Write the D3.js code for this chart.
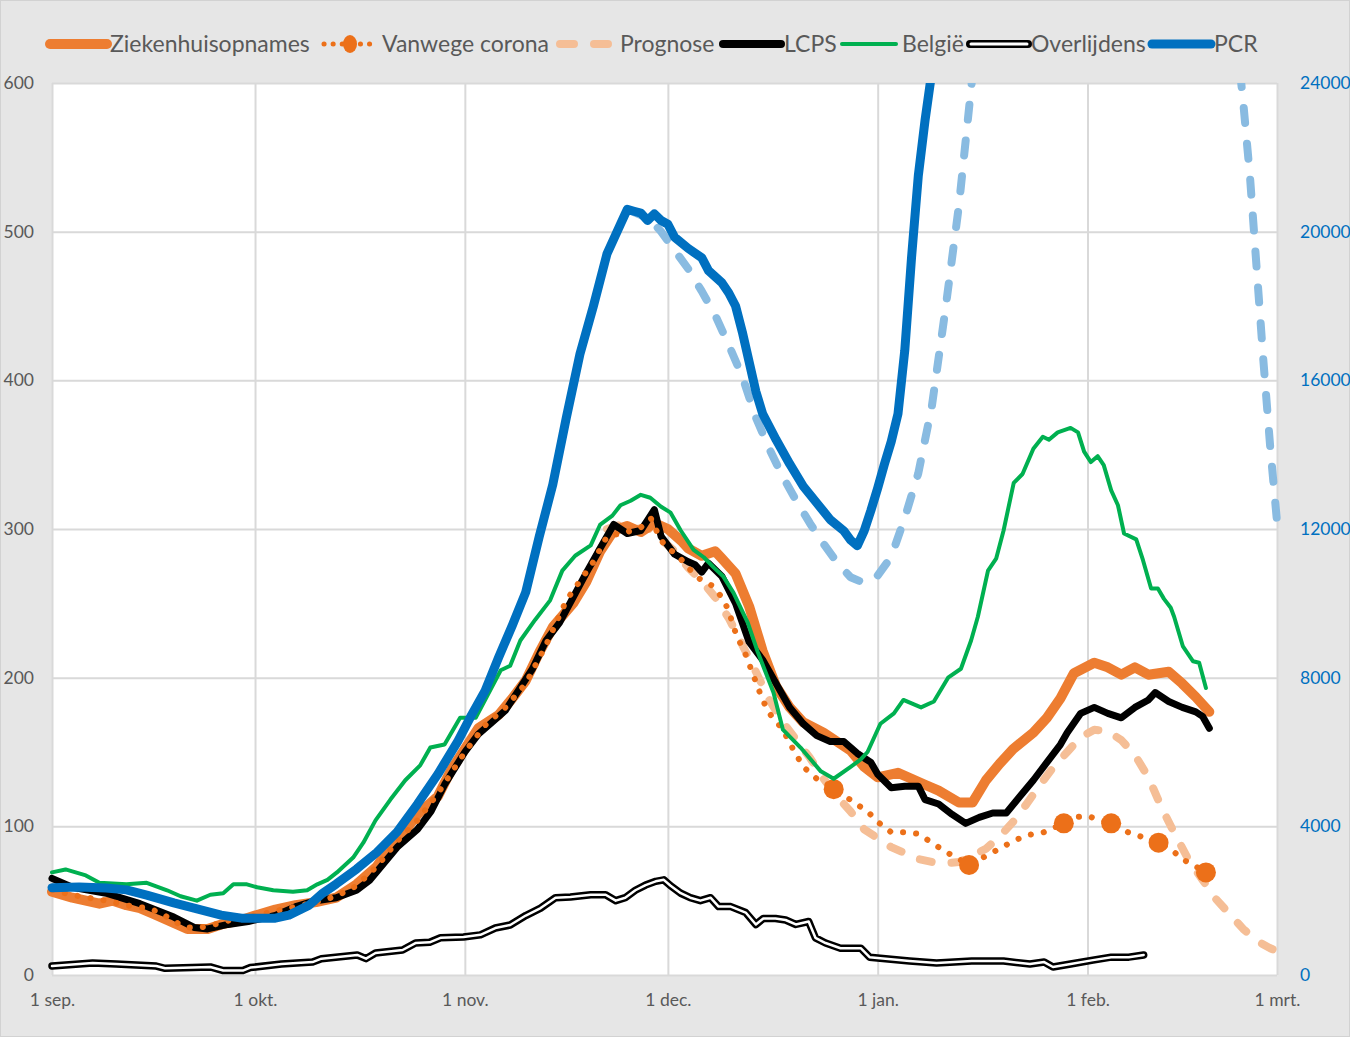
<!DOCTYPE html>
<html>
<head>
<meta charset="utf-8">
<script src="https://cdnjs.cloudflare.com/ajax/libs/d3/7.8.5/d3.min.js"></script>
<style>
body { margin: 0; background: #e6e6e6; }
svg { display: block; }
text { font-family: Lato, "Open Sans", sans-serif; }
</style>
</head>
<body>
<script>
// axis ticks
var monthTicks = ["2021-09-01", "2021-10-01", "2021-11-01", "2021-12-01", "2022-01-01", "2022-02-01", "2022-03-01"];
var monthLabels = ["1 sep.", "1 okt.", "1 nov.", "1 dec.", "1 jan.", "1 feb.", "1 mrt."];
var leftTicks = [0, 100, 200, 300, 400, 500, 600];
var rightTicks = [0, 4000, 8000, 12000, 16000, 20000, 24000];
var legendLabels = ["Ziekenhuisopnames", "Vanwege corona", "Prognose", "LCPS", "België", "Overlijdens", "PCR"];

// days counted from 1 sep 2021
var zhDays = [0,3,5,7,9,11,13,15,18,20,23,25,28,30,33,36,39,42,45,48,50,52,54,57,59,61,63,66,68,70,72,74,77,79,81,83,85,87,89,91,93,94,96,98,99,101,103,105,107,109,111,114,116,118,120,122,125,127,129,131,134,136,138,140,142,145,147,149,151,154,156,158,160,162,165,167,169,171];
var zhVals = [56,52,50,48,50,47,45,41,35,31,31,34,37,40,44,47,49,52,61,73,86,96,108,120,138,152,166,175,186,198,217,234,250,265,285,299,302,298,304,300,292,287,282,285,280,270,248,218,194,180,170,163,157,151,140,133,136,132,128,124,116,116,131,142,152,163,173,186,203,210,207,202,207,202,204,196,187,177];

var vcDays = [0,4,8,12,14,16,18,20,22,25,27,30,33,36,39,42,45,48,51,54,57,61,64,67,70,73,76,78,80,82,85,87,88.5,89.5,90.5,92.5,94,95.5,97.5,99,100,100.7,101.5,102.2,105,106,108,109,110,111,113,115.5,117,118.5,120.5,122,124,126,128,130,132,134,135.5,138,140,142,144,146.5,149.5,150.5,153,155,156.5,159,161,163.5,165.5,167,169,170.5];
var vcVals = [57,53,50,46,45,42,36,32,32,35,38,40,43,46,49,53,60,73,90,104,122,150,168,180,196,222,252,265,278,295,298,301,307,297,289,282,274,267,262,254,245,234,225,219,185,176,165,156,148,140,132,126,121,116,110,103,96,96,95,89,83,78,74,80,85,90,94,96,102,106,107,104,102,96,93,89,84,78,73,69];
var vcMarkDays = [115.5, 135.5, 149.5, 156.5, 163.5, 170.5];
var vcMarkVals = [125, 74, 102, 102, 89, 69];

var prDays = [82,84,86,88,90,92,94,96,98,100,102,104,106,108,110,112,114,116,118,120,122,124,126,128,130,132,134,136,138,140,142,144,146,148,150,152,154,156,158,160,162,164,166,168,170,172,174,176,178,180,181];
var prVals = [300,303,300,301,293,285,274,265,254,240,222,204,185,170,158,146,132,120,110,98,92,86,82,78,76,75,76,80,85,93,103,115,128,140,150,160,165,164,158,148,133,112,94,77,64,51,41,31,23,18,16];

var lcDays = [0,3,8,13,18,21,23,26,29,33,36,39,42,45,47,49,51,54,56,58,61,63,65,67,69,71,73,75,77,79,81,83,85,87,88,89,90,92,94,95,96,97,99,101,103,105,107,109,111,113,115,117,119,121,122,124,126,128,129,131,133,135,137,139,141,143,145,147,149,150,152,154,156,158,160,162,163,165,167,169,170,171];
var lcVals = [65,59,55,48,39,32,31,34,36,40,46,50,52,57,64,75,86,98,110,128,150,162,170,178,192,206,225,237,254,271,287,303,297,299,306,313,295,283,278,276,271,277,268,250,224,212,196,180,169,161,157,157,149,143,135,126,127,127,118,115,108,102,106,109,109,120,131,143,155,163,176,180,176,173,180,185,190,184,180,177,174,166];

var beDays = [0,2,5,7,11,14,17,19,21.4,23.4,25.3,26.8,28.8,30.3,32.7,35.6,37.7,39.2,40.7,42.1,44.5,46,47.8,50,52.2,54.4,55.9,58,60.3,62.6,64.8,66.3,67.7,69.2,71.4,73.6,75.4,77.3,79.6,81,82.8,84,85.5,87,88.4,90,91.4,92.9,94.8,96.3,97.8,99.2,100.7,102.8,104.3,106.6,108,110.6,113.6,115.5,118,119.5,120.5,122.4,124.4,125.8,128.4,130.3,132.4,134.3,135.8,136.8,138.3,139.5,140.6,142.1,143.4,145,146.4,147.3,148.6,150.5,151.6,152.5,153.5,154.5,155.4,156.5,157.5,158.4,160.2,161.2,162.4,163.4,164.3,165.3,165.8,167.1,168.6,169.5,170.5];
var beVals = [69,71,67,62,61,62,57,53,50,54,55,61,61,59,57,56,57,61,64,69,79,89,104,118,131,141,153,155,173,173,192,205,208,225,239,252,272,282,289,303,309,316,319,323,321,315,311,299,286,281,274,268,257,237,217,190,165,153,137,132,140,145,150,169,176,185,180,184,200,206,225,241,272,280,299,331,337,354,362,360,365,368,365,352,345,349,343,326,316,297,293,279,260,260,253,247,241,221,211,210,193];

var ovDays = [0,6,9.5,15.4,16.7,23.4,25.3,28.2,29.3,33.9,38.5,39.8,45.1,46.4,47.8,51.8,53.7,55.8,57.4,60.8,63.3,65.5,67.7,70,72.2,74.4,76.6,79.6,81.8,83.3,84.7,86.2,87.7,89.2,90.4,91.4,92.9,94.3,95.8,97.3,98.5,100.3,102.5,104,105.1,106.9,108.4,109.9,111.8,112.8,114.3,116.5,119.5,120.8,126.7,130.7,135.9,140.6,144.5,146.6,147.9,150.5,153.8,156.5,159.1,161.3];
var ovVals = [6,8,7.4,6,4.5,5.4,3,3,5,7.4,8.7,11,13.5,11,14.8,16.8,21.5,22,25,25.5,27,31.6,33.6,40,45,52,52.5,54,54,50,52,57,60.5,63,64,60,55,52,50,52,46,46,42,34,38,38,37,34,36,25,21.5,18,18,12,9.4,8,9.4,9.4,7.4,8.7,5.4,7.4,10,12,12,13.5];

var pcrDays = [0,4,8,11,14,18,21,25,28,33,35,38,40,42,45,48,51,54,57,60,62,64,66,68,70,72,74,76,78,80,82,84,85,86,87,88,89,90,91,92,94,96,97,99,100,101,102,103,104,105,107,109,111,113,115,117,118,119,120,121,122,123,124,125,126,127,128,129,130,131];
var pcrVals = [2350,2370,2340,2290,2150,1940,1800,1610,1530,1530,1610,1880,2200,2450,2850,3300,3850,4600,5400,6300,7000,7650,8550,9400,10300,11800,13200,15000,16700,18000,19400,20200,20600,20550,20500,20300,20480,20300,20200,19850,19550,19300,18950,18620,18350,18000,17300,16500,15700,15100,14400,13750,13150,12700,12250,11950,11700,11550,11950,12500,13100,13750,14350,15100,16800,19300,21500,23000,24300,26000];

var pdDays = [85,87,89,90,92,94,96,98,100,102,104,106,108,110,112,114,116,118,120,122,124,126,128,130,132,134,136,138,140,145,150,155,160,165,170,174,176,177,178,179,180,181];
var pdVals = [20600,20450,20200,20000,19500,19000,18400,17750,16950,16100,15000,14150,13400,12750,12150,11600,11100,10700,10550,10750,11250,12300,13500,15300,17900,20700,24200,28000,32000,40000,45000,47000,45000,40000,33000,27000,23500,21500,19000,16500,14200,12200];

var start = Date.UTC(2021, 8, 1);
function day(d) { return new Date(start + d * 864e5); }
function pts(days, vals) {
	return days.map(function (d, i) { return { t: day(d), v: vals[i] }; });
}

var W = 1350, H = 1037;
var L = 52, R = 1277, T = 83, B = 975;
var grey = "#595959";

var svg = d3.select("body").append("svg")
	.attr("width", W)
	.attr("height", H);

svg.append("rect")
	.attr("x", 0.5).attr("y", 0.5)
	.attr("width", W - 1).attr("height", H - 1)
	.attr("fill", "#e6e6e6")
	.attr("stroke", "#d2d2d2");

svg.append("rect")
	.attr("x", L).attr("y", T)
	.attr("width", R - L).attr("height", B - T)
	.attr("fill", "#fff");

var monthDates = monthTicks.map(function (s) { return new Date(s + "T00:00:00Z"); });

var x = d3.scaleUtc()
	.domain([monthDates[0], monthDates[monthDates.length - 1]])
	.range([L, R]);
var yL = d3.scaleLinear().domain([0, 600]).range([B, T]);
var yR = d3.scaleLinear().domain([0, 24000]).range([B, T]);

// gridlines
var gy = svg.append("g")
	.attr("transform", "translate(" + L + ",0)")
	.call(d3.axisLeft(yL).tickValues(leftTicks).tickSize(-(R - L)).tickFormat(""));
var gx = svg.append("g")
	.attr("transform", "translate(0," + B + ")")
	.call(d3.axisBottom(x).tickValues(monthDates).tickSize(-(B - T)).tickFormat(""));
[gy, gx].forEach(function (g) {
	g.select(".domain").remove();
	g.selectAll("line").attr("stroke", "#d9d9d9").attr("stroke-width", 2);
});

// tick labels
var ax = svg.append("g")
	.attr("transform", "translate(0," + B + ")")
	.call(d3.axisBottom(x).tickValues(monthDates).tickSize(0).tickPadding(19)
		.tickFormat(function (d, i) { return monthLabels[i]; }));
var al = svg.append("g")
	.attr("transform", "translate(" + L + ",0)")
	.call(d3.axisLeft(yL).tickValues(leftTicks).tickSize(0).tickPadding(18));
var ar = svg.append("g")
	.attr("transform", "translate(" + R + ",0)")
	.call(d3.axisRight(yR).tickValues(rightTicks).tickSize(0).tickPadding(23).tickFormat(d3.format("d")));
[ax, al, ar].forEach(function (g) {
	g.select(".domain").remove();
	g.selectAll("text")
		.attr("font-family", "Lato, sans-serif")
		.attr("font-size", 17.5)
		.attr("fill", grey);
});
ar.selectAll("text").attr("fill", "#0070C0");

svg.append("clipPath").attr("id", "plot")
	.append("rect")
	.attr("x", L - 12).attr("y", T)
	.attr("width", R - L + 24).attr("height", B - T + 12);

var plot = svg.append("g").attr("clip-path", "url(#plot)");

function lineL() {
	return d3.line().x(function (d) { return x(d.t); }).y(function (d) { return yL(d.v); });
}
function lineR() {
	return d3.line().x(function (d) { return x(d.t); }).y(function (d) { return yR(d.v); });
}

function draw(data, gen, color, width, dash) {
	var p = plot.append("path")
		.datum(data)
		.attr("d", gen)
		.attr("fill", "none")
		.attr("stroke", color)
		.attr("stroke-width", width)
		.attr("stroke-linejoin", "round")
		.attr("stroke-linecap", "round");
	if (dash) p.attr("stroke-dasharray", dash);
	return p;
}

var orange = "#ED7D31", dotOrange = "#EC7019", lightOrange = "#F5BE96";
var green = "#00B050", blue = "#0070C0", lightBlue = "#89BBE1";

draw(pts(prDays, prVals), lineL(), lightOrange, 8, "12 20");
draw(pts(zhDays, zhVals), lineL(), orange, 10);
draw(pts(lcDays, lcVals), lineL(), "#000", 7);
draw(pts(vcDays, vcVals), lineL(), dotOrange, 6, "0.1 13");

plot.selectAll("circle.vc")
	.data(pts(vcMarkDays, vcMarkVals))
	.enter().append("circle")
	.attr("class", "vc")
	.attr("cx", function (d) { return x(d.t); })
	.attr("cy", function (d) { return yL(d.v); })
	.attr("r", 10)
	.attr("fill", dotOrange);

draw(pts(beDays, beVals), lineL(), green, 4);

// overlijdens: black outline with white core
var ov = pts(ovDays, ovVals);
draw(ov, lineL(), "#000", 7.5);
draw(ov, lineL(), "#fff", 2.5);

draw(pts(pdDays, pdVals), lineR(), lightBlue, 8, "15 21");
draw(pts(pcrDays, pcrVals), lineR(), blue, 9);

// legend
var lgY = 44;
var lgSample = [[50, 107], [321, 377], [560, 614], [723, 781], [842, 896], [970, 1028], [1152, 1211]];
var lgText = [110, 382, 620, 784, 902, 1031, 1214];
var lg = svg.append("g");

function sample(i, color, width, dash) {
	var l = lg.append("line")
		.attr("x1", lgSample[i][0]).attr("x2", lgSample[i][1])
		.attr("y1", lgY).attr("y2", lgY)
		.attr("stroke", color)
		.attr("stroke-width", width)
		.attr("stroke-linecap", "round");
	if (dash) l.attr("stroke-dasharray", dash);
	return l;
}

sample(0, orange, 10);
sample(1, dotOrange, 5, "0.1 9").attr("x1", lgSample[1][0] + 3);
lg.append("ellipse")
	.attr("cx", (lgSample[1][0] + lgSample[1][1]) / 2 + 1)
	.attr("cy", lgY)
	.attr("rx", 7).attr("ry", 9)
	.attr("fill", dotOrange);
sample(2, lightOrange, 8, "14 20");
sample(3, "#000", 8);
sample(4, green, 4);
sample(5, "#000", 8);
sample(5, "#fff", 3).attr("x1", lgSample[5][0] + 1).attr("x2", lgSample[5][1] - 1);
sample(6, blue, 9);

lg.selectAll("text")
	.data(legendLabels)
	.enter().append("text")
	.attr("x", function (d, i) { return lgText[i]; })
	.attr("y", lgY)
	.attr("dy", "0.35em")
	.attr("font-size", 23)
	.attr("fill", grey)
	.text(function (d) { return d; });
</script>
</body>
</html>
